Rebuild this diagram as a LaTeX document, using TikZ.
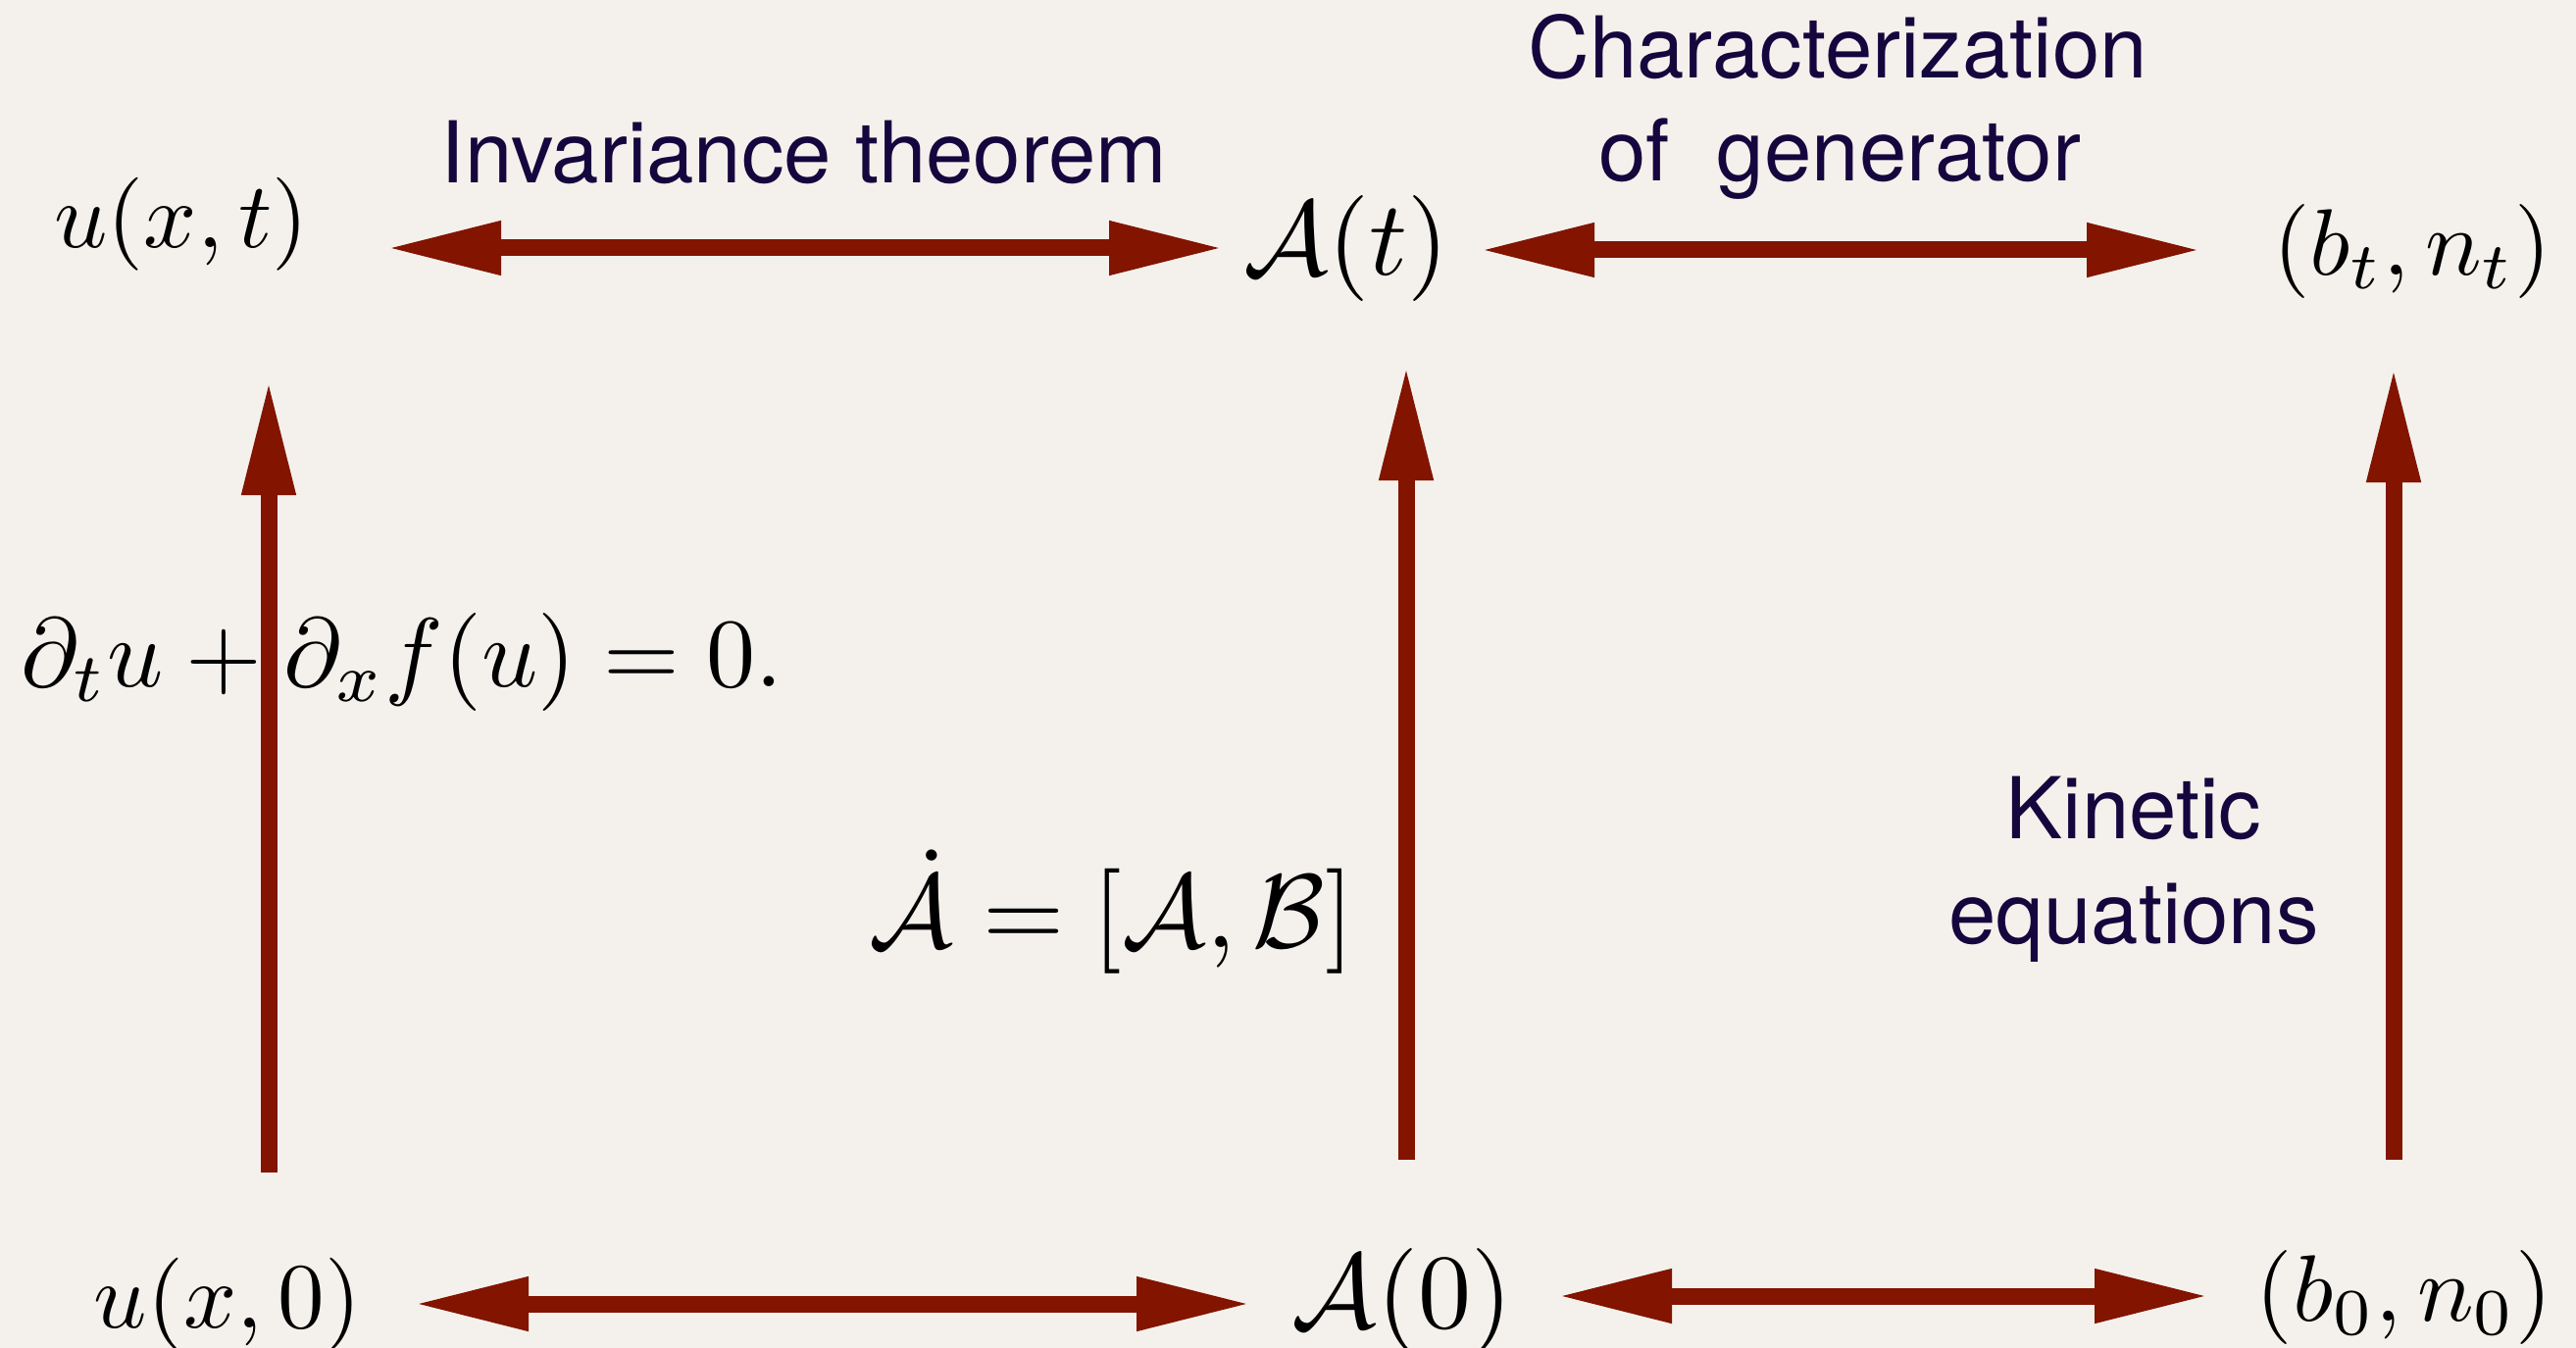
\documentclass[tikz,border=0pt]{standalone}
\usepackage{fontspec}
\newfontfamily\helv{TeX Gyre Heros}
\usetikzlibrary{arrows.meta}
\definecolor{bg}{RGB}{244,241,236}
\definecolor{arrred}{RGB}{130,20,0}
\definecolor{navy}{RGB}{22,6,62}
\begin{document}
\begin{tikzpicture}[x=1pt,y=-1pt,
  lbl/.style={font=\helv\fontsize{87}{107}\selectfont, text=navy, inner sep=0, anchor=base},
  mth/.style={inner sep=0, anchor=base, font=\fontsize{10}{10}\selectfont, transform shape},
  dbl/.style={draw=arrred, line width=17pt, {Triangle[length=117pt,width=51pt]}-{Triangle[length=117pt,width=51pt]}},
  uparr/.style={draw=arrred, line width=17pt, -{Triangle[length=117pt,width=51pt]}}]
\fill[bg] (0,0) rectangle (2627,1375);
\useasboundingbox (0,0) rectangle (2627,1375);

% math nodes
\node[mth, scale=9.5] (ut) at (185,253) {$u(x,t)$};
\node[mth, scale=10.8] (At) at (1373,280) {$\mathcal{A}(t)$};
\node[mth, scale=9.6] (bt) at (2460,280) {$(b_t,n_t)$};
\node[mth, scale=9.5] (u0) at (232,1354) {$u(x,0)$};
\node[mth, scale=10.8] (A0) at (1430,1354) {$\mathcal{A}(0)$};
\node[mth, scale=9.6] (b0) at (2452,1347) {$(b_0,n_0)$};
\node[mth, scale=10] (pde) at (410,700) {$\partial_t u + \partial_x f(u) = 0.$};
\node[mth, scale=10.7] (lax) at (1134,966) {$\dot{\mathcal{A}} = [\mathcal{A},\mathcal{B}]$};

% labels
\node[lbl] (inv) at (820,187) {Invariance theorem};
\node[lbl] (char1) at (1874,80) {Characterization};
\node[lbl] (char2) at (1876,185) {of\ \ generator};
\node[lbl] (kin1) at (2176,855) {Kinetic};
\node[lbl] (kin2) at (2176,962) {equations};

% arrow end points
\coordinate (ut-e) at (394,253);  \coordinate (At-w) at (1248,253);
\coordinate (At-e) at (1509,255); \coordinate (bt-w) at (2245,255);
\coordinate (u0-e) at (422,1330); \coordinate (A0-w) at (1276,1330);
\coordinate (A0-e) at (1588,1322); \coordinate (b0-w) at (2253,1322);
\coordinate (u0-n) at (274,1196); \coordinate (ut-s) at (274,388);
\coordinate (A0-n) at (1434,1183); \coordinate (At-s) at (1434,373);
\coordinate (b0-n) at (2441,1183); \coordinate (bt-s) at (2441,375);

\draw[dbl] (ut-e) -- (At-w);
\draw[dbl] (At-e) -- (bt-w);
\draw[dbl] (u0-e) -- (A0-w);
\draw[dbl] (A0-e) -- (b0-w);
\draw[uparr] (u0-n) -- (ut-s);
\draw[uparr] (A0-n) -- (At-s);
\draw[uparr] (b0-n) -- (bt-s);
\end{tikzpicture}
\end{document}
